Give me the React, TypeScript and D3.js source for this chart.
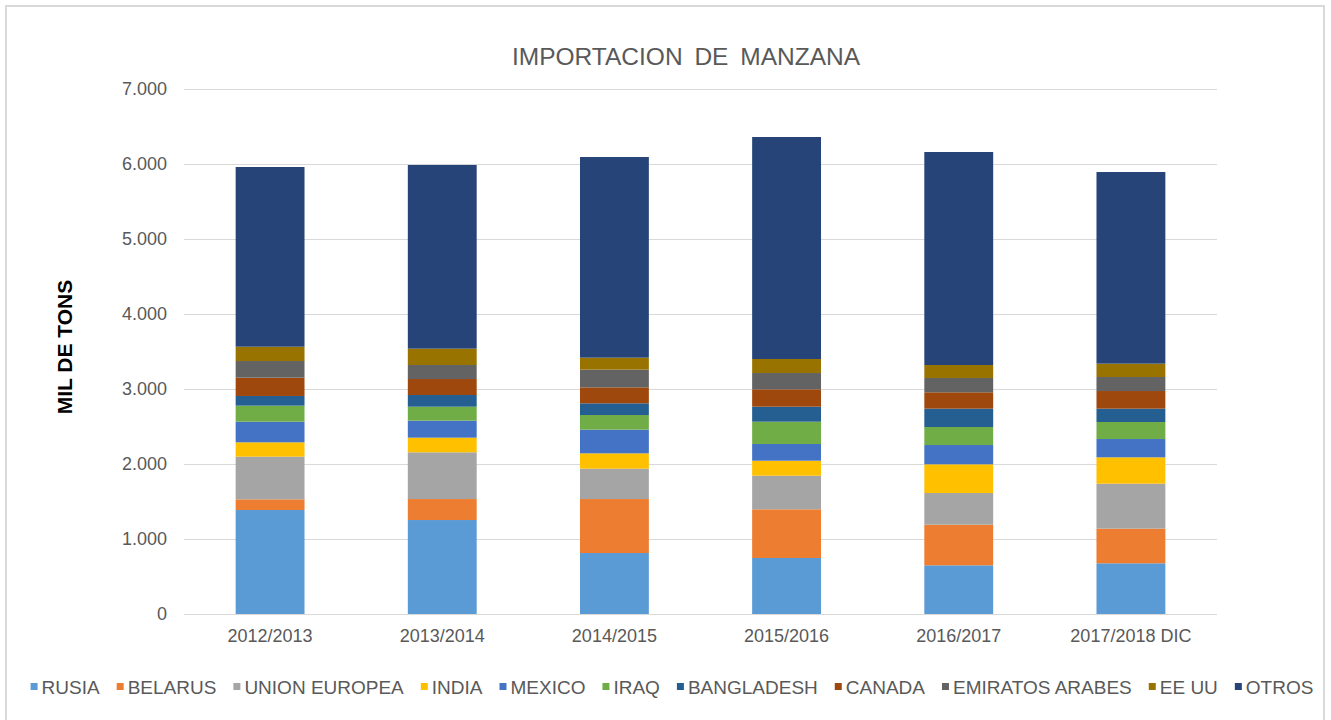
import React, { useEffect, useRef } from "react";
import * as d3 from "d3";

const categories = ["2012/2013", "2013/2014", "2014/2015", "2015/2016", "2016/2017", "2017/2018 DIC"];
const seriesNames = ["RUSIA", "BELARUS", "UNION EUROPEA", "INDIA", "MEXICO", "IRAQ", "BANGLADESH", "CANADA", "EMIRATOS ARABES", "EE UU", "OTROS"];
const rusia = [1387, 1253, 813, 747, 649, 676];
const belarus = [142, 280, 720, 649, 542, 462];
const unionEuropea = [569, 623, 405, 448, 422, 600];
const india = [191, 195, 204, 200, 383, 351];
const mexico = [275, 227, 316, 223, 257, 244];
const iraq = [214, 186, 195, 297, 240, 227];
const bangladesh = [129, 156, 156, 200, 245, 178];
const canada = [244, 213, 213, 232, 218, 235];
const emiratos = [222, 187, 236, 217, 191, 187];
const eeuu = [191, 218, 160, 187, 173, 178];
const otros = [2396, 2449, 2675, 2960, 2840, 2555];
const seriesValues = [rusia, belarus, unionEuropea, india, mexico, iraq, bangladesh, canada, emiratos, eeuu, otros];
const colors = ["#5B9BD5", "#ED7D31", "#A5A5A5", "#FFC000", "#4472C4", "#70AD47", "#255E91", "#9E480E", "#636363", "#997300", "#264478"];
const yTicks = [0, 1000, 2000, 3000, 4000, 5000, 6000, 7000];

const W = 1331, H = 720;

export default function App() {
  const ref = useRef<SVGSVGElement>(null);
  useEffect(() => {
    const svg = d3.select(ref.current);
    svg.selectAll("*").remove();
    const font = "'Liberation Sans', Arial, sans-serif";
    const txt = "#595959";

    svg.append("rect").attr("x", 6).attr("y", 6).attr("width", 1318).attr("height", 730)
      .attr("fill", "#fff").attr("stroke", "#D9D9D9").attr("stroke-width", 2);

    const x = d3.scaleBand<string>().domain(categories).range([184, 1217]).paddingInner(0.6).paddingOuter(0.3);
    const y = d3.scaleLinear().domain([0, 7000]).range([614, 89]);
    const fmt = d3.formatLocale({ decimal: ",", thousands: ".", grouping: [3], currency: ["", ""] }).format(",");

    const g = svg.append("g");
    g.selectAll("line.grid").data(yTicks).enter().append("line")
      .attr("x1", 184).attr("x2", 1217)
      .attr("y1", (d) => y(d) + 0.5).attr("y2", (d) => y(d) + 0.5)
      .attr("stroke", "#D9D9D9").attr("stroke-width", 1);
    g.selectAll("text.ytick").data(yTicks).enter().append("text")
      .attr("x", 167).attr("y", (d) => y(d)).attr("dy", "0.35em")
      .attr("text-anchor", "end").attr("font-family", font).attr("font-size", 18).attr("fill", txt)
      .text((d) => fmt(d));

    const rows = categories.map((c, i) => {
      const r: any = { cat: c };
      seriesNames.forEach((s, k) => (r[s] = seriesValues[k][i]));
      return r;
    });
    const stacked = d3.stack().keys(seriesNames)(rows);
    stacked.forEach((layer, k) => {
      g.append("g").attr("fill", colors[k]).selectAll("rect").data(layer).enter().append("rect")
        .attr("x", (d: any) => x(d.data.cat)!)
        .attr("width", x.bandwidth())
        .attr("y", (d) => y(d[1]))
        .attr("height", (d) => y(d[0]) - y(d[1]));
    });

    g.selectAll("text.xl").data(categories).enter().append("text")
      .attr("x", (d) => x(d)! + x.bandwidth() / 2).attr("y", 642)
      .attr("text-anchor", "middle").attr("font-family", font).attr("font-size", 18).attr("fill", txt)
      .text((d) => d);

    svg.append("text").attr("x", 686).attr("y", 65).attr("text-anchor", "middle")
      .attr("font-family", font).attr("font-size", 24.5).attr("fill", txt).attr("word-spacing", 5)
      .text("IMPORTACION DE MANZANA");

    svg.append("text").attr("transform", "translate(72,347) rotate(-90)").attr("text-anchor", "middle")
      .attr("font-family", font).attr("font-size", 21).attr("font-weight", "bold").attr("fill", "#000")
      .text("MIL DE TONS");

    // legend
    const lg = svg.append("g");
    const items = seriesNames.map((name, k) => {
      const it = lg.append("g");
      it.append("rect").attr("width", 7).attr("height", 7).attr("y", -11).attr("fill", colors[k]);
      const t = it.append("text").attr("x", 11).attr("y", 0).attr("font-family", font).attr("font-size", 19).attr("fill", txt).text(name);
      const w = (t.node() as SVGTextElement).getComputedTextLength();
      return { it, w: 11 + w };
    });
    const gap = 17;
    const total = d3.sum(items, (d) => d.w) + gap * (items.length - 1);
    let cx = 672 - total / 2;
    items.forEach((d) => {
      d.it.attr("transform", `translate(${cx},694)`);
      cx += d.w + gap;
    });
  }, []);
  return (
    <svg ref={ref} width={W} height={H} style={{ position: "absolute", left: 0, top: 0, background: "#fff" }} />
  );
}
